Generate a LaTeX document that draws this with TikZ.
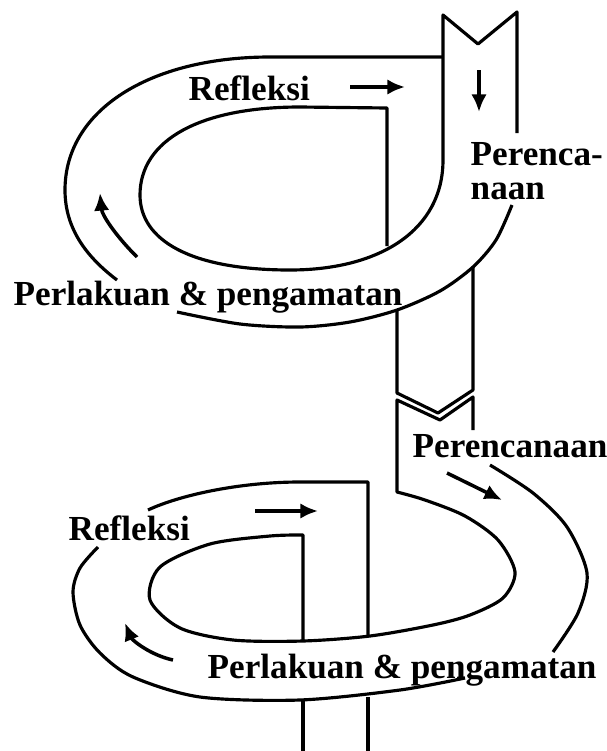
\documentclass[tikz,border=0pt]{standalone}
\usepackage{fontspec}
\setmainfont{Liberation Serif}
\usetikzlibrary{arrows.meta}
\tikzset{
  lbl/.style={anchor=base west,inner sep=0pt,font=\bfseries\fontsize{10}{12}\selectfont},
  band/.style={line width=0.9pt,line join=round},
  flow/.style={line width=1pt,-{Latex[length=5pt,width=4.4pt]}}
}
\begin{document}
\begin{tikzpicture}[x=0.01cm,y=-0.01cm]
\useasboundingbox (0,0) rectangle (607,751);
\node(refl1) at (188,100)[lbl]{Refleksi};
\node(renc1) at (470,165)[lbl]{Perenca-};
\node(renc1b) at (470,199)[lbl]{naan};
\node(act1) at (13,305)[lbl]{Perlakuan \& pengamatan};
\node(renc2) at (412,457)[lbl]{Perencanaan};
\node(refl2) at (68,540)[lbl]{Refleksi};
\node(act2) at (207,678)[lbl]{Perlakuan \& pengamatan};

\draw[band] (387,246) -- (387,108) -- (300,107)
  .. controls (200,107) and (140,140) .. (140,195)
  .. controls (140,240) and (190,270) .. (290,270)
  .. controls (380,270) and (443,230) .. (443,160)
  -- (443,15) -- (478,44) -- (517,12) -- (517,133);
\draw[band] (443,57) -- (270,57)
  .. controls (150,57) and (65,110) .. (65,190)
  .. controls (65,230) and (88,258) .. (117,280);
\draw[band] plot[smooth] coordinates {(512,205) (496,240) (473,267) (440,291) (397,310) (350,322) (300,327) (240,324) (177,312)};
\draw[band] (473,267) -- (473,390) -- (438,413) -- (397,393) -- (397,310);

\draw[band] (473,430) -- (473,397) -- (440,420) -- (397,400) -- (397,492)
  -- plot[smooth] coordinates {(397,492) (425,500) (465,516) (498,540) (515,572) (503,598) (470,615) (433,625) (370,636) (303,641) (233,640) (180,628) (150,600) (160,567) (210,544) (270,536) (303,535)}
  -- (303,640);
\draw[band] (368,637) -- (368,482) -- (300,482)
  .. controls (240,482) and (180,495) .. (148,510);
\draw[band] plot[smooth] coordinates {(98,547) (80,568) (73,592) (80,625) (100,653) (133,677) (200,697) (300,700) (400,690) (465,678)};
\draw[band] plot[smooth] coordinates {(490,465) (533,493) (567,527) (587,573) (578,613) (553,652)};
\draw[band] (303,700) -- (303,751);
\draw[band] (368,697) -- (368,751);

\draw[flow] (350,87) -- (405,87);
\draw[flow] (479,70) -- (479,112);
\draw[flow] (137,257) .. controls (115,235) and (102,215) .. (100,193);
\draw[flow] (255,511) -- (318,511);
\draw[flow] (447,473) -- (502,500);
\draw[flow] (173,660) .. controls (150,655) and (132,640) .. (125,623);
\end{tikzpicture}
\end{document}
